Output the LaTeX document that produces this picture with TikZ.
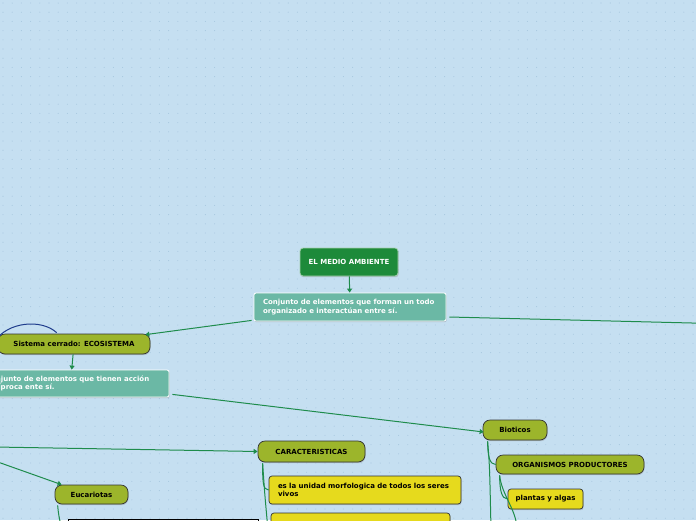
\documentclass[tikz,border=0pt]{standalone}
\usepackage{fontspec}
\setmainfont{DejaVu Sans}
\usetikzlibrary{shadows,arrows.meta}
\definecolor{bg}{HTML}{C5DFF1}
\definecolor{dotc}{HTML}{A9C8E0}
\definecolor{dgreen}{HTML}{1D8A3A}
\definecolor{teal2}{HTML}{6BB8A5}
\definecolor{olive}{HTML}{9CB52B}
\definecolor{yel}{HTML}{E6DA1D}
\definecolor{lnk}{HTML}{1E8C4C}
\definecolor{bluec}{HTML}{1F3C8C}
\tikzset{
 base/.style={inner sep=0pt, font=\fontsize{7}{8.5}\selectfont\bfseries,
   drop shadow={shadow xshift=0.6pt,shadow yshift=-1.2pt,opacity=0.35}},
 topic/.style={base, fill=dgreen, draw=white!60!dgreen, line width=0.8pt, text=white, rounded corners=3pt},
 tealbox/.style={base, fill=teal2, draw=white, line width=0.8pt, text=white, rounded corners=2pt,
   align=left, inner xsep=9pt},
 pill/.style={base, fill=olive, draw=black!80, line width=0.7pt, rounded corners=7pt},
 ybox/.style={base, fill=yel, draw=black!80, line width=0.7pt, rounded corners=3pt, align=left, inner xsep=9pt},
 conn/.style={draw=lnk, line width=1pt},
 arr/.style={conn, -{Triangle[length=4pt,width=5pt]}},
}
\begin{document}
\begin{tikzpicture}[x=1pt,y=-1pt]
\fill[bg] (0,0) rectangle (696,520);
\useasboundingbox (0,0) rectangle (696,520);
\foreach \i in {0,...,76} \foreach \j in {0,...,57}
  \fill[dotc] (\i*9.2+3,\j*9.2+3) circle (0.55pt);

% nodes
\node[topic, minimum width=98pt, minimum height=28pt] (ema) at (349,262) {EL MEDIO AMBIENTE};
\node[tealbox, text width=174pt, minimum height=28pt] (c1) at (350,307)
  {Conjunto de elementos que forman un todo\\organizado e interactúan entre sí.};
\node[pill, minimum width=152pt, minimum height=20pt] (sc) at (74,344) {Sistema cerrado: ECOSISTEMA};
\node[tealbox, inner xsep=14pt, text width=169pt, minimum height=27pt] (c2) at (70.5,383.5)
  {Conjunto de elementos que tienen acción\\recíproca ente sí.};
\node[pill, minimum width=107pt, minimum height=21pt] (car) at (311.5,451.5) {CARACTERISTICAS};
\node[pill, minimum width=64pt, minimum height=20pt] (bio) at (515,430) {Bioticos};
\node[ybox, inner xsep=0pt, minimum width=75pt, minimum height=20pt] (pla) at (545.5,499) {plantas y algas};
\node[pill, minimum width=148pt, minimum height=19pt] (org) at (570,464.5) {ORGANISMOS PRODUCTORES};
\node[pill, minimum width=73pt, minimum height=19pt] (euc) at (91.5,494.5) {Eucariotas};
\node[ybox, text width=174pt, minimum height=28pt] (y1) at (365,490)
  {es la unidad morfologica de todos los seres\\vivos};
\node[ybox, minimum width=179pt, minimum height=28pt] (y2) at (360.5,527) {};
\node[base, fill=white, draw=black, line width=0.8pt, minimum width=190pt, minimum height=28pt] (blk) at (163,533) {};

% free ends
\coordinate (offR) at (700,323.2);
\coordinate (offL1) at (-5,447);
\coordinate (offL2) at (-5,461);
\coordinate (bl1) at (-6,342);
\coordinate (bioBot) at (491,530);
\coordinate (orgBot) at (517,530);
\coordinate (carBot) at (268,530);
\coordinate (eucBot) at (62,530);

% connectors
\draw[arr] (ema) -- (c1);
\draw[arr] ([xshift=-2pt,yshift=1pt]c1.south west) -- ([xshift=-5pt,yshift=-1pt]sc.north east);
\draw[conn] ([xshift=3pt,yshift=-10pt]c1.east) -- (offR);
\draw[arr] (sc) -- (c2);
\draw[arr] ([xshift=3pt,yshift=3pt]c2.south east) -- ([xshift=1pt,yshift=-2pt]bio.west);
\draw[arr] (offL1) -- (car.west);
\draw[arr] (offL2) -- ([xshift=7pt]euc.north west);
\draw[conn] ([xshift=5pt,yshift=-1pt]car.south west) .. controls +(0,18) and +(-6,0) .. (y1.west);
\draw[conn] ([xshift=5pt,yshift=-1pt]car.south west) .. controls +(2,30) .. (carBot);
\draw[conn] ([xshift=5pt,yshift=-1pt]bio.south west) .. controls +(0,15) and +(-6,0) .. (org.west);
\draw[conn] ([xshift=5pt,yshift=-1pt]bio.south west) .. controls +(2,25) .. (bioBot);
\draw[conn] ([xshift=4pt,yshift=-1pt]org.south west) .. controls +(0,15) and +(-6,0) .. (pla.west);
\draw[conn] ([xshift=4pt,yshift=-1pt]org.south west) .. controls +(2,20) and +(0,-20) .. (orgBot);
\draw[conn] ([xshift=3pt,yshift=-1pt]euc.south west) .. controls +(1,10) .. (eucBot);
\draw[draw=bluec, line width=1pt] (bl1) .. controls (8,321) and (42,319) .. ([xshift=59pt,yshift=1pt]sc.north west);
\end{tikzpicture}
\end{document}
